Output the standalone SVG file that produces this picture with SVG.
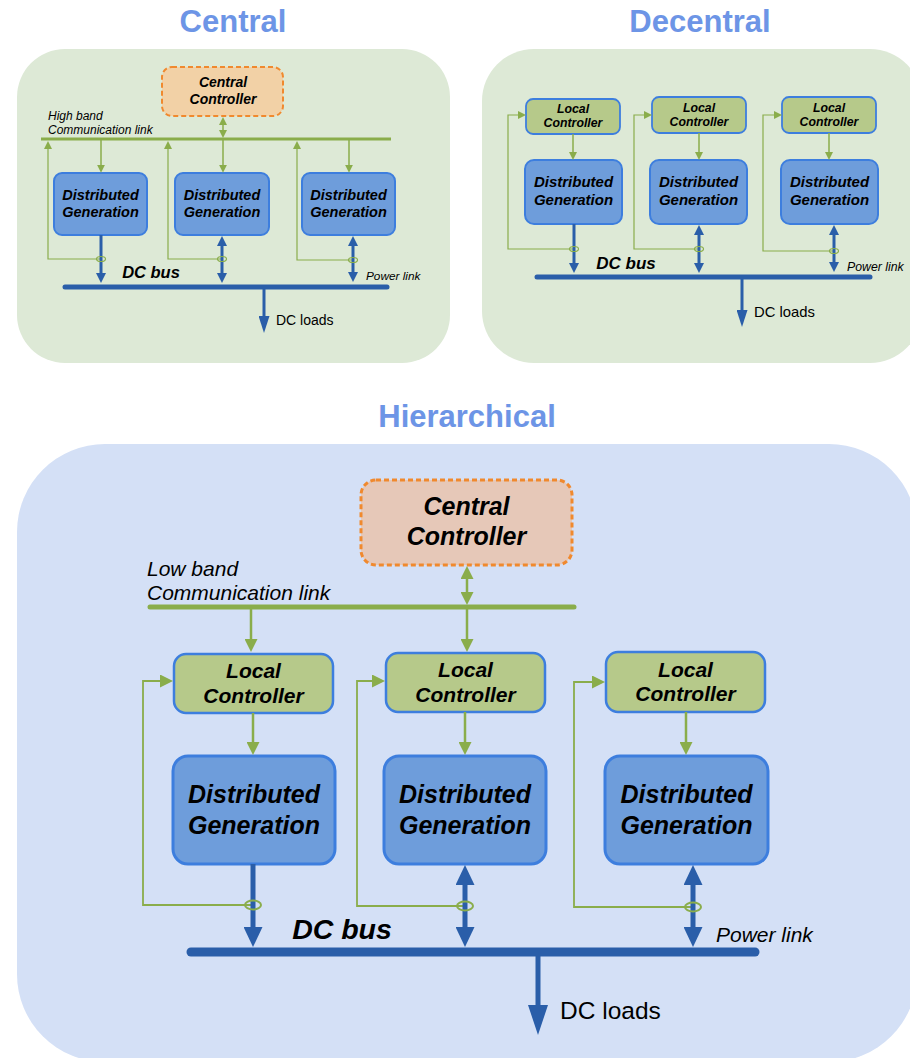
<svg xmlns="http://www.w3.org/2000/svg" width="910" height="1058" viewBox="0 0 910 1058">
  <style>
    text { font-family: "Liberation Sans", Arial, sans-serif; fill: #000; }
    .title { font-size: 31px; font-weight: bold; fill: #6d95e6; text-anchor: middle; }
    .bi { font-weight: bold; font-style: italic; text-anchor: middle; }
    .it { font-style: italic; }
    .bgG { fill: #dde9d6; }
    .bgB { fill: #d4e0f6; }
    .cc { stroke: #f0892e; stroke-dasharray: 5 3; }
    .lc { fill: #b6c98a; stroke: #3d7ede; }
    .dg { fill: #6e9ddb; stroke: #3d7ede; }
    .gl { stroke: #8aad4b; fill: none; }
    .bl { stroke: #2a5ea9; fill: none; }
    .ring { fill: none; stroke: #8aad4b; }
  </style>
  <defs>
    <marker id="gS" viewBox="0 0 10 10" refX="4" refY="5" markerWidth="8" markerHeight="8" markerUnits="userSpaceOnUse" orient="auto-start-reverse" preserveAspectRatio="none"><path d="M0,0 L10,5 L0,10 z" fill="#8aad4b"/></marker>
    <marker id="gH" viewBox="0 0 10 10" refX="4" refY="5" markerWidth="13" markerHeight="13" markerUnits="userSpaceOnUse" orient="auto-start-reverse" preserveAspectRatio="none"><path d="M0,0 L10,5 L0,10 z" fill="#8aad4b"/></marker>
    <marker id="bS" viewBox="0 0 10 10" refX="4" refY="5" markerWidth="10" markerHeight="10" markerUnits="userSpaceOnUse" orient="auto-start-reverse" preserveAspectRatio="none"><path d="M0,0 L10,5 L0,10 z" fill="#2a5ea9"/></marker>
    <marker id="bSL" viewBox="0 0 10 10" refX="4" refY="5" markerWidth="17" markerHeight="11" markerUnits="userSpaceOnUse" orient="auto-start-reverse" preserveAspectRatio="none"><path d="M0,0 L10,5 L0,10 z" fill="#2a5ea9"/></marker>
    <marker id="bH" viewBox="0 0 10 10" refX="4" refY="5" markerWidth="20" markerHeight="19" markerUnits="userSpaceOnUse" orient="auto-start-reverse" preserveAspectRatio="none"><path d="M0,0 L10,5 L0,10 z" fill="#2a5ea9"/></marker>
    <marker id="bHL" viewBox="0 0 10 10" refX="4" refY="5" markerWidth="30" markerHeight="20" markerUnits="userSpaceOnUse" orient="auto-start-reverse" preserveAspectRatio="none"><path d="M0,0 L10,5 L0,10 z" fill="#2a5ea9"/></marker>
  </defs>

  <!-- Section titles -->
  <text class="title" x="233" y="32">Central</text>
  <text class="title" x="700" y="32">Decentral</text>
  <text class="title" x="467" y="427">Hierarchical</text>

  <!-- Panel backgrounds -->
  <rect class="bgG" x="17" y="49" width="433" height="314" rx="48"/>
  <rect class="bgG" x="482" y="49" width="440" height="314" rx="52"/>
  <rect class="bgB" x="17" y="444" width="900" height="618" rx="88"/>

  <!-- ===== Central architecture ===== -->
  <g id="c-controller">
    <rect class="cc" x="162" y="67" width="121" height="49" rx="10" fill="#f2d1a6" stroke-width="2"/>
    <text class="bi" x="223" y="87" font-size="14">Central</text>
    <text class="bi" x="223" y="104" font-size="14">Controller</text>
  </g>
  <g id="c-dg1">
    <rect class="dg" x="54" y="173" width="93" height="62" rx="8" stroke-width="2"/>
    <text class="bi" x="100.5" y="200" font-size="14.5">Distributed</text>
    <text class="bi" x="100.5" y="217" font-size="14.5">Generation</text>
  </g>
  <g id="c-dg2">
    <rect class="dg" x="175" y="173" width="94" height="62" rx="8" stroke-width="2"/>
    <text class="bi" x="222" y="200" font-size="14.5">Distributed</text>
    <text class="bi" x="222" y="217" font-size="14.5">Generation</text>
  </g>
  <g id="c-dg3">
    <rect class="dg" x="302" y="173" width="93" height="62" rx="8" stroke-width="2"/>
    <text class="bi" x="348.5" y="200" font-size="14.5">Distributed</text>
    <text class="bi" x="348.5" y="217" font-size="14.5">Generation</text>
  </g>
  <g id="c-labels">
    <text class="it" x="48" y="120" font-size="12">High band</text>
    <text class="it" x="48" y="134" font-size="12">Communication link</text>
    <text class="bi" x="151" y="278" font-size="16.5">DC bus</text>
    <text class="it" x="366" y="280" font-size="11.8">Power link</text>
    <text x="276" y="325" font-size="14">DC loads</text>
  </g>
  <g id="c-connectors">
    <line class="gl" x1="41" y1="139" x2="391" y2="139" stroke-width="3"/>
    <line class="gl" x1="223" y1="121.8" x2="223" y2="133.2" stroke-width="1.5" marker-start="url(#gS)" marker-end="url(#gS)"/>
    <line class="gl" x1="101" y1="139" x2="101" y2="168" stroke-width="1.5" marker-end="url(#gS)"/>
    <line class="gl" x1="223" y1="139" x2="223" y2="168" stroke-width="1.5" marker-end="url(#gS)"/>
    <line class="gl" x1="349" y1="139" x2="349" y2="168" stroke-width="1.5" marker-end="url(#gS)"/>
    <path class="gl" d="M101,259 H48 V145.8" stroke-width="1.2" marker-end="url(#gS)"/>
    <path class="gl" d="M222,259 H168 V145.8" stroke-width="1.2" marker-end="url(#gS)"/>
    <path class="gl" d="M352,260 H297 V145.8" stroke-width="1.2" marker-end="url(#gS)"/>
    <line class="bl" x1="101" y1="235" x2="101" y2="277" stroke-width="3" marker-end="url(#bS)"/>
    <line class="bl" x1="222" y1="242" x2="222" y2="277" stroke-width="3" marker-start="url(#bS)" marker-end="url(#bS)"/>
    <line class="bl" x1="353" y1="242" x2="353" y2="276" stroke-width="3" marker-start="url(#bS)" marker-end="url(#bS)"/>
    <ellipse class="ring" cx="101" cy="259" rx="4.5" ry="2.5" stroke-width="1.2"/>
    <ellipse class="ring" cx="222" cy="259" rx="4.5" ry="2.5" stroke-width="1.2"/>
    <ellipse class="ring" cx="353" cy="260" rx="4.5" ry="2.5" stroke-width="1.2"/>
    <line class="bl" x1="65" y1="287" x2="387" y2="287" stroke-width="5" stroke-linecap="round"/>
    <line class="bl" x1="264" y1="287" x2="264" y2="322.8" stroke-width="3" marker-end="url(#bSL)"/>
  </g>

  <!-- ===== Decentral architecture ===== -->
  <g id="d-lc1">
    <rect class="lc" x="526" y="99" width="94" height="35" rx="7" stroke-width="1.8"/>
    <text class="bi" x="573" y="113" font-size="12.3">Local</text>
    <text class="bi" x="573" y="127" font-size="12.3">Controller</text>
  </g>
  <g id="d-lc2">
    <rect class="lc" x="652" y="97" width="94" height="36" rx="7" stroke-width="1.8"/>
    <text class="bi" x="699" y="112" font-size="12.3">Local</text>
    <text class="bi" x="699" y="126" font-size="12.3">Controller</text>
  </g>
  <g id="d-lc3">
    <rect class="lc" x="782" y="97" width="94" height="36" rx="7" stroke-width="1.8"/>
    <text class="bi" x="829" y="112" font-size="12.3">Local</text>
    <text class="bi" x="829" y="126" font-size="12.3">Controller</text>
  </g>
  <g id="d-dg1">
    <rect class="dg" x="525" y="160" width="97" height="64" rx="9" stroke-width="2"/>
    <text class="bi" x="573.5" y="187" font-size="15">Distributed</text>
    <text class="bi" x="573.5" y="205" font-size="15">Generation</text>
  </g>
  <g id="d-dg2">
    <rect class="dg" x="650" y="160" width="97" height="64" rx="9" stroke-width="2"/>
    <text class="bi" x="698.5" y="187" font-size="15">Distributed</text>
    <text class="bi" x="698.5" y="205" font-size="15">Generation</text>
  </g>
  <g id="d-dg3">
    <rect class="dg" x="781" y="160" width="97" height="64" rx="9" stroke-width="2"/>
    <text class="bi" x="829.5" y="187" font-size="15">Distributed</text>
    <text class="bi" x="829.5" y="205" font-size="15">Generation</text>
  </g>
  <g id="d-labels">
    <text class="bi" x="626" y="269" font-size="17">DC bus</text>
    <text class="it" x="847" y="271" font-size="12.3">Power link</text>
    <text x="754" y="317" font-size="14.8">DC loads</text>
  </g>
  <g id="d-connectors">
    <line class="gl" x1="573" y1="134" x2="573" y2="155.2" stroke-width="1.5" marker-end="url(#gS)"/>
    <line class="gl" x1="699" y1="133" x2="699" y2="155.2" stroke-width="1.5" marker-end="url(#gS)"/>
    <line class="gl" x1="829" y1="133" x2="829" y2="155.2" stroke-width="1.5" marker-end="url(#gS)"/>
    <path class="gl" d="M574,249 H508 V115 H521.2" stroke-width="1.2" marker-end="url(#gS)"/>
    <path class="gl" d="M699,249 H634 V115 H647.2" stroke-width="1.2" marker-end="url(#gS)"/>
    <path class="gl" d="M834,251 H763 V115 H777.2" stroke-width="1.2" marker-end="url(#gS)"/>
    <line class="bl" x1="574" y1="224" x2="574" y2="267" stroke-width="3" marker-end="url(#bS)"/>
    <line class="bl" x1="699" y1="231" x2="699" y2="267" stroke-width="3" marker-start="url(#bS)" marker-end="url(#bS)"/>
    <line class="bl" x1="834" y1="231" x2="834" y2="266" stroke-width="3" marker-start="url(#bS)" marker-end="url(#bS)"/>
    <ellipse class="ring" cx="574" cy="249" rx="4.5" ry="2.5" stroke-width="1.2"/>
    <ellipse class="ring" cx="699" cy="249" rx="4.5" ry="2.5" stroke-width="1.2"/>
    <ellipse class="ring" cx="834" cy="251" rx="4.5" ry="2.5" stroke-width="1.2"/>
    <line class="bl" x1="537" y1="277" x2="870" y2="277" stroke-width="5" stroke-linecap="round"/>
    <line class="bl" x1="742" y1="277" x2="742" y2="316.8" stroke-width="3" marker-end="url(#bSL)"/>
  </g>

  <!-- ===== Hierarchical architecture ===== -->
  <g id="h-controller">
    <rect class="cc" x="361" y="480" width="211" height="85" rx="15" fill="#e6c8b8" stroke-width="3" stroke-dasharray="9 5"/>
    <text class="bi" x="466.5" y="515" font-size="25">Central</text>
    <text class="bi" x="466.5" y="545" font-size="25">Controller</text>
  </g>
  <g id="h-lc1">
    <rect class="lc" x="174" y="654" width="159" height="59" rx="12" stroke-width="2.5"/>
    <text class="bi" x="253.5" y="678" font-size="21">Local</text>
    <text class="bi" x="253.5" y="703" font-size="21">Controller</text>
  </g>
  <g id="h-lc2">
    <rect class="lc" x="386" y="653" width="159" height="59" rx="12" stroke-width="2.5"/>
    <text class="bi" x="465.5" y="677" font-size="21">Local</text>
    <text class="bi" x="465.5" y="702" font-size="21">Controller</text>
  </g>
  <g id="h-lc3">
    <rect class="lc" x="606" y="652" width="159" height="60" rx="12" stroke-width="2.5"/>
    <text class="bi" x="685.5" y="677" font-size="21">Local</text>
    <text class="bi" x="685.5" y="701" font-size="21">Controller</text>
  </g>
  <g id="h-dg1">
    <rect class="dg" x="173" y="756" width="162" height="108" rx="15" stroke-width="3"/>
    <text class="bi" x="254" y="803" font-size="25">Distributed</text>
    <text class="bi" x="254" y="834" font-size="25">Generation</text>
  </g>
  <g id="h-dg2">
    <rect class="dg" x="384" y="756" width="162" height="108" rx="15" stroke-width="3"/>
    <text class="bi" x="465" y="803" font-size="25">Distributed</text>
    <text class="bi" x="465" y="834" font-size="25">Generation</text>
  </g>
  <g id="h-dg3">
    <rect class="dg" x="605" y="756" width="163" height="108" rx="15" stroke-width="3"/>
    <text class="bi" x="686.5" y="803" font-size="25">Distributed</text>
    <text class="bi" x="686.5" y="834" font-size="25">Generation</text>
  </g>
  <g id="h-labels">
    <text class="it" x="147" y="576" font-size="21">Low band</text>
    <text class="it" x="147" y="600" font-size="21">Communication link</text>
    <text class="bi" x="342" y="939" font-size="28.5">DC bus</text>
    <text class="it" x="716" y="942" font-size="21">Power link</text>
    <text x="560" y="1019" font-size="24.5">DC loads</text>
  </g>
  <g id="h-connectors">
    <line class="gl" x1="150" y1="607" x2="574" y2="607" stroke-width="5" stroke-linecap="round"/>
    <line class="gl" x1="467" y1="573.8" x2="467" y2="597.2" stroke-width="2.5" marker-start="url(#gH)" marker-end="url(#gH)"/>
    <line class="gl" x1="251" y1="607" x2="251" y2="644.2" stroke-width="2.5" marker-end="url(#gH)"/>
    <line class="gl" x1="467" y1="607" x2="467" y2="644.2" stroke-width="2.5" marker-end="url(#gH)"/>
    <line class="gl" x1="253" y1="713" x2="253" y2="747.2" stroke-width="2.5" marker-end="url(#gH)"/>
    <line class="gl" x1="465" y1="712" x2="465" y2="747.2" stroke-width="2.5" marker-end="url(#gH)"/>
    <line class="gl" x1="686" y1="712" x2="686" y2="747.2" stroke-width="2.5" marker-end="url(#gH)"/>
    <path class="gl" d="M253,905 H143 V681 H165.2" stroke-width="1.8" marker-end="url(#gH)"/>
    <path class="gl" d="M465,906 H357 V681 H377.2" stroke-width="1.8" marker-end="url(#gH)"/>
    <path class="gl" d="M693,907 H574 V682 H597.2" stroke-width="1.8" marker-end="url(#gH)"/>
    <line class="bl" x1="253" y1="864" x2="253" y2="935" stroke-width="5" marker-end="url(#bH)"/>
    <line class="bl" x1="465" y1="877" x2="465" y2="935" stroke-width="5" marker-start="url(#bH)" marker-end="url(#bH)"/>
    <line class="bl" x1="693" y1="877" x2="693" y2="935" stroke-width="5" marker-start="url(#bH)" marker-end="url(#bH)"/>
    <ellipse class="ring" cx="253" cy="905" rx="8" ry="4.5" stroke-width="2"/>
    <ellipse class="ring" cx="465" cy="906" rx="8" ry="4.5" stroke-width="2"/>
    <ellipse class="ring" cx="693" cy="907" rx="8" ry="4.5" stroke-width="2"/>
    <line class="bl" x1="191" y1="952" x2="755" y2="952" stroke-width="9" stroke-linecap="round"/>
    <line class="bl" x1="538" y1="952" x2="538" y2="1017" stroke-width="5" marker-end="url(#bHL)"/>
  </g>
</svg>
